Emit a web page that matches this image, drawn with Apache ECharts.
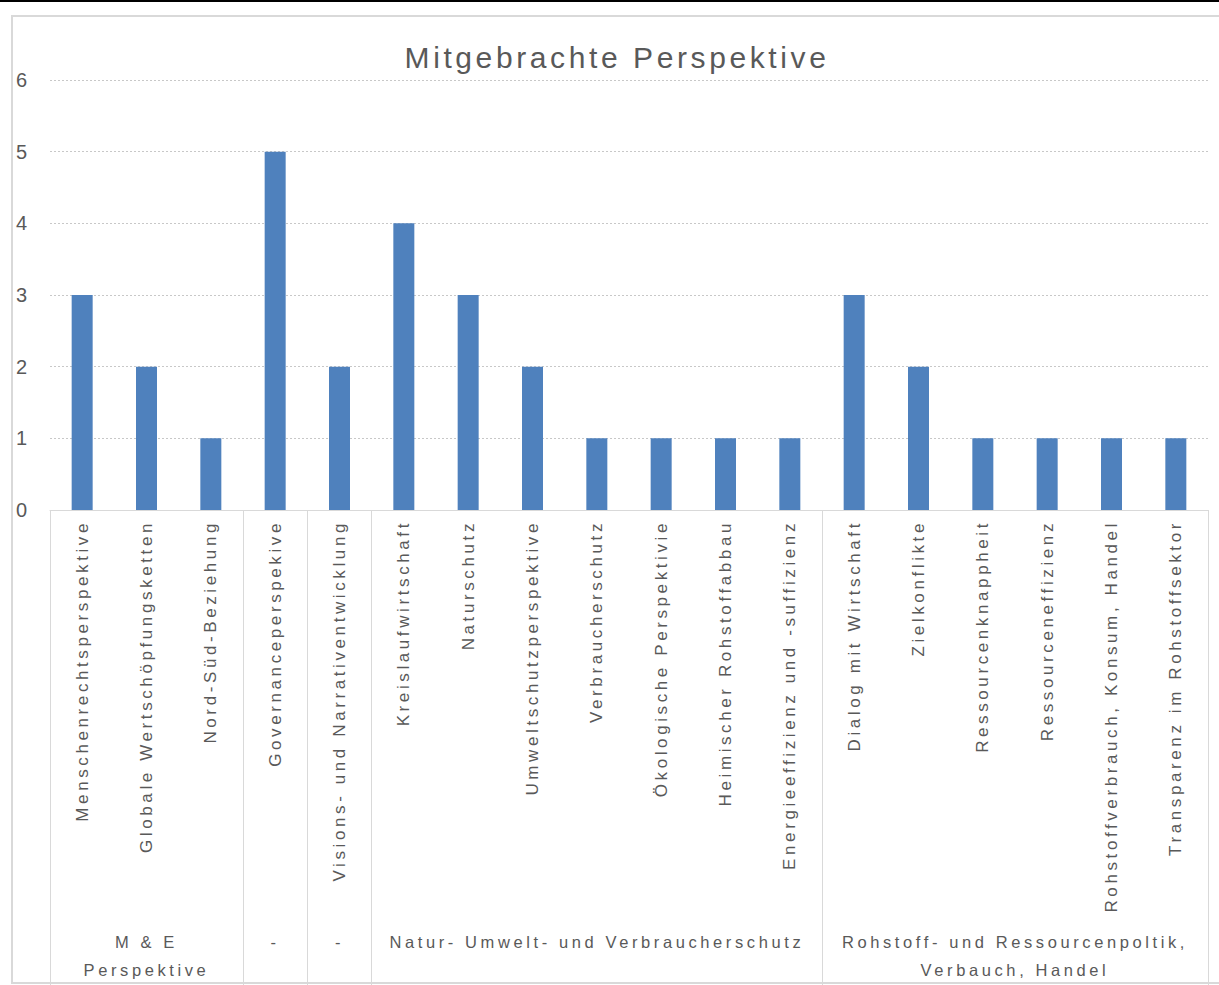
<!DOCTYPE html>
<html>
<head>
<meta charset="utf-8">
<script src="https://cdn.jsdelivr.net/npm/echarts@6/dist/echarts.min.js"></script>
<style>
  html, body { margin: 0; padding: 0; background: #fff; }
  #chart { width: 1219px; height: 985px; }
  #chart text { letter-spacing: 3.6px; }
</style>
</head>
<body>
<div id="chart"></div>
<script>
const categories = [
  'Menschenrechtsperspektive',
  'Globale Wertschöpfungsketten',
  'Nord-Süd-Beziehung',
  'Governanceperspekive',
  'Visions- und Narrativentwicklung',
  'Kreislaufwirtschaft',
  'Naturschutz',
  'Umweltschutzperspektive',
  'Verbraucherschutz',
  'Ökologische Perspektivie',
  'Heimischer Rohstoffabbau',
  'Energieeffizienz und -suffizienz',
  'Dialog mit Wirtschaft',
  'Zielkonflikte',
  'Ressourcenknappheit',
  'Ressourceneffizienz',
  'Rohstoffverbrauch, Konsum, Handel',
  'Transparenz im Rohstoffsektor'
];
const values = [3, 2, 1, 5, 2, 4, 3, 2, 1, 1, 1, 1, 3, 2, 1, 1, 1, 1];
const groupNames = [
  'M & E\nPerspektive',
  '-',
  '-',
  'Natur- Umwelt- und Verbraucherschutz',
  'Rohstoff- und Ressourcenpoltik,\nVerbauch, Handel'
];
const groupSizes = [3, 1, 1, 7, 6];
const yTicks = [0, 1, 2, 3, 4, 5, 6];

// group boundaries and centers derived from group sizes
const bounds = [0];
groupSizes.forEach(s => bounds.push(bounds[bounds.length - 1] + s));
const centers = groupSizes.map((s, i) => bounds[i] + s / 2);

const chart = echarts.init(document.getElementById('chart'), null, { renderer: 'svg' });
const textColor = '#595959';
const font = 'Liberation Sans, Arial, sans-serif';

chart.setOption({
  animation: false,
  backgroundColor: '#fff',
  title: {
    text: 'Mitgebrachte Perspektive',
    left: 612,
    textAlign: 'center',
    top: 37,
    textStyle: { color: textColor, fontSize: 30, fontWeight: 'normal', fontFamily: font }
  },
  graphic: [
    { type: 'line', shape: { x1: 0, y1: 1, x2: 1219, y2: 1 }, style: { stroke: '#000', lineWidth: 2 } },
    { type: 'rect', shape: { x: 12, y: 16, width: 1300, height: 967 }, style: { fill: 'none', stroke: '#d9d9d9', lineWidth: 2 } }
  ],
  grid: { left: 50, right: 11, top: 80, bottom: 475, containLabel: false },
  xAxis: [
    {
      type: 'category',
      data: categories,
      axisLine: { show: true, lineStyle: { color: '#d9d9d9' } },
      axisTick: { show: false },
      axisLabel: {
        interval: 0,
        rotate: 90,
        margin: 10,
        color: textColor,
        fontSize: 17,
        fontFamily: font
      }
    },
    {
      type: 'value',
      min: 0,
      max: categories.length,
      position: 'bottom',
      axisLine: { show: false },
      splitLine: { show: false },
      axisTick: {
        show: true,
        length: 480,
        customValues: bounds,
        lineStyle: { color: '#d9d9d9' }
      },
      axisLabel: {
        show: true,
        customValues: centers,
        margin: 418,
        color: textColor,
        fontSize: 16.5,
        lineHeight: 28,
        fontFamily: font,
        formatter: function (v) {
          const i = centers.findIndex(c => Math.abs(c - v) < 1e-6);
          return i >= 0 ? groupNames[i] : '';
        }
      }
    }
  ],
  yAxis: {
    type: 'value',
    min: yTicks[0],
    max: yTicks[yTicks.length - 1],
    interval: 1,
    axisLine: { show: false },
    axisTick: { show: false },
    axisLabel: { color: textColor, fontSize: 20, fontFamily: font, align: 'left', margin: 34 },
    splitLine: { show: true, lineStyle: { color: '#c8c8c8', type: [2, 2], width: 1 } }
  },
  series: [
    {
      type: 'bar',
      data: values,
      barWidth: 21,
      itemStyle: { color: '#4F81BD' }
    }
  ]
});
</script>
</body>
</html>
